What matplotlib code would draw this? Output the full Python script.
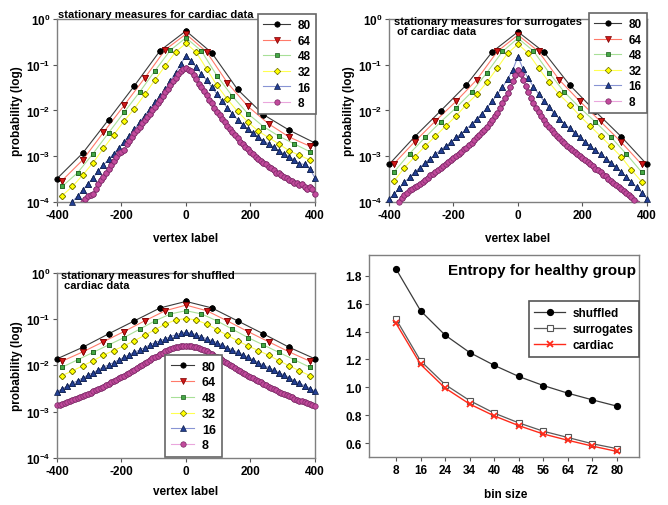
import numpy as np
import matplotlib
matplotlib.use('Agg')
import matplotlib.pyplot as plt
from matplotlib.ticker import NullLocator

plt.rcParams['font.family'] = ['Liberation Sans', 'DejaVu Sans']
plt.rcParams['font.weight'] = 'bold'
plt.rcParams['axes.labelweight'] = 'bold'
plt.rcParams['axes.unicode_minus'] = False
plt.rcParams['mathtext.fontset'] = 'custom'
plt.rcParams['mathtext.rm'] = 'Liberation Sans:bold'
plt.rcParams['mathtext.bf'] = 'Liberation Sans:bold'

# ---- data (log10 of probability), bin sizes 80,64,48,32,16,8 ----
bins = [80, 64, 48, 32, 16, 8]

# cardiac
c80 = [-3.49, -2.93, -2.20, -1.46, -0.69, -0.26, -0.74, -1.54, -2.09, -2.43, -2.71]
c64 = [-3.53, -3.08, -2.48, -1.89, -1.29, -0.67, -0.33, -0.72, -1.39, -1.91, -2.29, -2.58, -2.78]
c48 = [-3.66, -3.36, -2.94, -2.49, -2.04, -1.60, -1.13, -0.68, -0.41, -0.70, -1.24, -1.69,
       -2.07, -2.35, -2.56, -2.73, -2.90]
c32 = [-3.86, -3.66, -3.41, -3.14, -2.83, -2.53, -2.23, -1.96, -1.65, -1.33, -1.02, -0.72,
       -0.53, -0.73, -1.09, -1.45, -1.75, -2.02, -2.25, -2.45, -2.59, -2.73, -2.88, -2.98, -3.08]
c16 = [-4.35, -4.23, -4.11, -3.99, -3.87, -3.74, -3.60, -3.47, -3.32, -3.19, -3.07, -2.94,
       -2.82, -2.68, -2.55, -2.41, -2.26, -2.11, -1.97, -1.82, -1.68, -1.53, -1.35, -1.17, -0.98,
       -0.80, -0.92, -1.06, -1.20, -1.34, -1.49, -1.64, -1.80, -1.94, -2.07, -2.20, -2.31, -2.41,
       -2.50, -2.58, -2.66, -2.73, -2.80, -2.88, -2.95, -3.01, -3.08, -3.16, -3.18, -3.28, -3.47]
c8 = [-4.60, -4.55, -4.50, -4.45, -4.40, -4.32, -4.26, -4.20, -4.12, -4.06, -4.01,
      -3.93, -3.87, -3.85, -3.83, -3.72, -3.60, -3.52, -3.45, -3.37, -3.28, -3.20, -3.11, -3.02,
      -2.92, -2.90, -2.86, -2.74, -2.66, -2.58, -2.50, -2.43, -2.35, -2.28, -2.21, -2.14, -2.07,
      -1.99, -1.92, -1.84, -1.76, -1.68, -1.60, -1.52, -1.44, -1.36, -1.28, -1.20, -1.13, -1.09,
      -1.07,
      -1.11, -1.14, -1.23, -1.32, -1.41, -1.48, -1.58, -1.66, -1.76, -1.84, -1.94, -2.03, -2.10,
      -2.18, -2.26, -2.33, -2.40, -2.47, -2.54, -2.60, -2.68, -2.73, -2.79, -2.85, -2.91, -2.96,
      -3.02, -3.06, -3.11, -3.15, -3.17, -3.24, -3.25, -3.30, -3.36, -3.36, -3.42, -3.45, -3.47,
      -3.52, -3.53, -3.58, -3.59, -3.63, -3.61, -3.67, -3.71, -3.68, -3.72, -3.83]

# surrogates
s80 = [-3.18, -2.57, -2.01, -1.44, -0.72, -0.28, -0.72, -1.44, -2.02, -2.57, -3.18]
s64 = [-3.16, -2.68, -2.23, -1.80, -1.33, -0.71, -0.35, -0.71, -1.33, -1.80, -2.24, -2.69, -3.18]
s48 = [-3.34, -2.94, -2.59, -2.25, -1.94, -1.60, -1.17, -0.71, -0.42, -0.70, -1.17, -1.60,
       -1.94, -2.25, -2.58, -2.95, -3.35]
s32 = [-3.54, -3.25, -3.01, -2.78, -2.56, -2.34, -2.12, -1.87, -1.65, -1.38, -1.07, -0.75,
       -0.55, -0.75, -1.07, -1.38, -1.65, -1.87, -2.12, -2.34, -2.56, -2.78, -3.01, -3.30, -3.56]
s16 = [-3.93, -3.83, -3.70, -3.57, -3.46, -3.34, -3.25, -3.14, -3.05, -2.96, -2.86, -2.78,
       -2.69, -2.59, -2.51, -2.40, -2.30, -2.18, -2.07, -1.94, -1.80, -1.65, -1.49, -1.31, -1.11,
       -0.82, -1.10, -1.30, -1.48, -1.64, -1.79, -1.93, -2.06, -2.18, -2.29, -2.39, -2.50, -2.59,
       -2.69, -2.78, -2.87, -2.96, -3.05, -3.14, -3.24, -3.34, -3.45, -3.56, -3.68, -3.80, -3.93]
s8 = [-4.30, -4.22, -4.14, -4.06, -3.99, -3.92, -3.85, -3.80, -3.74, -3.71, -3.68, -3.64,
      -3.60, -3.56, -3.52, -3.47, -3.42, -3.38, -3.34, -3.30, -3.26, -3.21, -3.17, -3.12, -3.08,
      -3.03, -2.99, -2.94, -2.90, -2.85, -2.81, -2.76, -2.71, -2.65, -2.59, -2.54, -2.48, -2.42,
      -2.35, -2.28, -2.21, -2.13, -2.05, -1.94, -1.83, -1.72, -1.61, -1.48, -1.36, -1.22, -1.11,
      -1.20, -1.33, -1.46, -1.60, -1.72, -1.83, -1.94, -2.04, -2.13, -2.21, -2.29, -2.36, -2.43,
      -2.49, -2.55, -2.60, -2.66, -2.72, -2.77, -2.82, -2.86, -2.91, -2.95, -3.00, -3.04, -3.09,
      -3.13, -3.18, -3.22, -3.27, -3.31, -3.35, -3.40, -3.44, -3.49, -3.53, -3.58, -3.62, -3.67,
      -3.71, -3.76, -3.80, -3.85, -3.89, -3.96, -4.02, -4.08, -4.15, -4.22, -4.30]

# shuffled
h80 = [-1.86, -1.61, -1.32, -1.04, -0.76, -0.62, -0.76, -1.04, -1.32, -1.61, -1.86]
h64 = [-1.91, -1.71, -1.49, -1.27, -1.04, -0.82, -0.70, -0.82, -1.04, -1.27, -1.49, -1.71, -1.91]
h48 = [-2.04, -1.88, -1.72, -1.56, -1.40, -1.22, -1.04, -0.89, -0.82, -0.89, -1.04, -1.22,
       -1.40, -1.56, -1.72, -1.88, -2.04]
h32 = [-2.22, -2.12, -2.01, -1.90, -1.78, -1.68, -1.58, -1.47, -1.35, -1.23, -1.11, -1.02,
       -0.99, -1.02, -1.11, -1.23, -1.35, -1.47, -1.58, -1.68, -1.78, -1.90, -2.01, -2.12, -2.22]
h16 = [-2.57, -2.51, -2.45, -2.39, -2.33, -2.27, -2.21, -2.16, -2.10, -2.04, -1.99, -1.94,
       -1.88, -1.83, -1.77, -1.72, -1.67, -1.62, -1.56, -1.51, -1.47, -1.43, -1.38, -1.34, -1.31,
       -1.28, -1.31, -1.34, -1.38, -1.43, -1.47, -1.51, -1.56, -1.62, -1.67, -1.72, -1.77, -1.83,
       -1.88, -1.94, -2.00, -2.05, -2.10, -2.16, -2.21, -2.27, -2.33, -2.39, -2.44, -2.50, -2.56]
h8 = [-2.86, -2.85, -2.83, -2.81, -2.79, -2.77, -2.75, -2.73, -2.71, -2.69, -2.66, -2.64,
      -2.61, -2.59, -2.56, -2.54, -2.51, -2.48, -2.46, -2.43, -2.40, -2.37, -2.34, -2.31, -2.28,
      -2.25, -2.22, -2.19, -2.16, -2.12, -2.09, -2.05, -2.02, -1.99, -1.95, -1.92, -1.89, -1.85,
      -1.82, -1.79, -1.76, -1.73, -1.70, -1.67, -1.65, -1.63, -1.61, -1.60, -1.59, -1.58, -1.58,
      -1.58, -1.59, -1.60, -1.61, -1.63, -1.65, -1.67, -1.70, -1.73, -1.76, -1.79, -1.82, -1.85,
      -1.89, -1.92, -1.95, -1.99, -2.02, -2.05, -2.09, -2.12, -2.16, -2.19, -2.22, -2.25, -2.28,
      -2.31, -2.34, -2.37, -2.40, -2.43, -2.46, -2.49, -2.51, -2.54, -2.57, -2.59, -2.62, -2.64,
      -2.67, -2.69, -2.72, -2.74, -2.76, -2.78, -2.80, -2.82, -2.84, -2.86, -2.87]

# entropy panel
bin_labels = ['8', '16', '24', '34', '40', '48', '56', '64', '72', '80']
shuffled = [1.85, 1.55, 1.375, 1.25, 1.158, 1.078, 1.013, 0.958, 0.91, 0.865]
surrogates = [1.49, 1.19, 1.02, 0.905, 0.815, 0.745, 0.685, 0.64, 0.595, 0.56]
cardiac = [1.46, 1.165, 0.995, 0.88, 0.795, 0.725, 0.665, 0.62, 0.578, 0.54]

xpos = {80: np.arange(-400, 401, 80), 64: np.arange(-384, 385, 64), 48: np.arange(-384, 385, 48),
        32: np.arange(-384, 385, 32), 16: np.arange(-400, 401, 16), 8: np.arange(-400, 401, 8)}

sty = {80: dict(marker='o', mfc='black', mec='black', color='#3a3a3a', ms=3.9),
       64: dict(marker='v', mfc='#d01818', mec='#7a0000', color='#ff7a6a', ms=3.8),
       48: dict(marker='s', mfc='#44a844', mec='#1e5a1e', color='#a8e098', ms=3.5),
       32: dict(marker='D', mfc='#ffff00', mec='#6a6a00', color='#ffff50', ms=3.3),
       16: dict(marker='^', mfc='#233f94', mec='#10204a', color='#8894d4', ms=3.8),
       8: dict(marker='o', mfc='#c24a9c', mec='#7a2a66', color='#eaa6dc', ms=3.9)}

frame_col = '#7f7f7f'


def style_axes(ax):
    for s in ax.spines.values():
        s.set_color(frame_col)
        s.set_linewidth(1.0)
    ax.tick_params(labelsize=8.5, length=3, width=0.8, color='#555555', pad=2)


def stationary(ax, data, title, leg_anchor, leg_loc, leg_fs, hlen, ylab_x):
    for b, vals in zip(bins, data):
        y = 10.0 ** np.array(vals)
        x = xpos[b]
        st = sty[b]
        ax.plot(x, y, lw=0.8, color=st['color'], marker=st['marker'], ms=st['ms'],
                mfc=st['mfc'], mec=st['mec'], mew=0.5, label=str(b))
        m = y >= 1e-4
        ax.plot(x[m], y[m], ls='none', marker=st['marker'], ms=st['ms'],
                mfc=st['mfc'], mec=st['mec'], mew=0.5, clip_on=False, zorder=3)
    ax.set_yscale('log')
    ax.set_ylim(1e-4, 1)
    ax.set_xlim(-400, 400)
    ax.set_xticks([-400, -200, 0, 200, 400])
    ax.set_yticks([1e-4, 1e-3, 1e-2, 1e-1, 1])
    ax.set_yticklabels([r'$\mathbf{10^{-4}}$', r'$\mathbf{10^{-3}}$', r'$\mathbf{10^{-2}}$',
                        r'$\mathbf{10^{-1}}$', r'$\mathbf{10^{0}}$'])
    ax.yaxis.set_minor_locator(NullLocator())
    style_axes(ax)
    ax.set_xlabel('vertex label', fontsize=8.5, fontweight='bold')
    ax.set_ylabel('probability (log)', fontsize=8.5, fontweight='bold')
    ax.yaxis.set_label_coords(ylab_x, 0.5)
    ax.text(0.005, 1.0, title, transform=ax.transAxes, fontsize=8, va='bottom', ha='left',
            linespacing=1.0)
    leg = ax.legend(loc=leg_loc, bbox_to_anchor=leg_anchor, borderaxespad=0, fancybox=False,
                    edgecolor='#666666', framealpha=1, fontsize=leg_fs, handlelength=hlen,
                    labelspacing=0.3, borderpad=0.45, handletextpad=0.6)
    leg.get_frame().set_linewidth(1.2)
    leg.set_zorder(5)


fig = plt.figure(figsize=(6.68, 5.06), dpi=100)

ax1 = fig.add_axes([0.0853, 0.5988, 0.3862, 0.3617])
stationary(ax1, [c80, c64, c48, c32, c16, c8], 'stationary measures for cardiac data',
           (1.004, 1.027), 'upper right', 8.5, 2.3, -0.13)
ax1.xaxis.set_label_coords(0.5, -0.165)

ax2 = fig.add_axes([0.5823, 0.5988, 0.3862, 0.3617])
stationary(ax2, [s80, s64, s48, s32, s16, s8],
           'stationary measures for surrogates\n of cardiac data',
           (1.0, 1.033), 'upper right', 8.5, 2.3, -0.13)
ax2.texts[0].set_position((0.02, 0.905))
ax2.xaxis.set_label_coords(0.5, -0.165)

ax3 = fig.add_axes([0.0853, 0.0929, 0.3862, 0.3662])
stationary(ax3, [h80, h64, h48, h32, h16, h8],
           'stationary measures for shuffled\n cardiac data',
           (0.419, 0.005), 'lower left', 9.0, 1.9, -0.13)
ax3.texts[0].set_position((0.015, 0.905))
ax3.xaxis.set_label_coords(0.5, -0.146)

# entropy panel
ax4 = fig.add_axes([0.5524, 0.0949, 0.4042, 0.3992])
xi = np.arange(len(bin_labels))
ax4.plot(xi, shuffled, color='#3a3a3a', lw=0.9, marker='o', ms=4.2, mfc='black', mec='black',
         label='shuffled')
ax4.plot(xi, surrogates, color='#5a5a5a', lw=0.9, marker='s', ms=4.0, mfc='white',
         mec='#555555', mew=0.8, label='surrogates')
ax4.plot(xi, cardiac, color='#ff2a1a', lw=1.0, marker='x', ms=5.0, mec='#ff2a1a', mew=1.3,
         label='cardiac')
ax4.set_xlim(-1.1, 9.9)
ax4.set_ylim(0.5, 1.95)
ax4.set_xticks(xi)
ax4.set_xticklabels(bin_labels)
ax4.set_yticks([0.6, 0.8, 1.0, 1.2, 1.4, 1.6, 1.8])
ax4.set_yticklabels(['0.6', '0.8', '1.0', '1.2', '1.4', '1.6', '1.8'])
style_axes(ax4)
ax4.set_xlabel('bin size', fontsize=8.5, fontweight='bold')
ax4.xaxis.set_label_coords(0.507, -0.153)
ax4.text(0.99, 0.925, 'Entropy for healthy group', transform=ax4.transAxes, fontsize=11,
         ha='right', va='center')
leg4 = ax4.legend(loc='upper right', bbox_to_anchor=(1.0, 0.772), borderaxespad=0,
                  fancybox=False, edgecolor='#555555', framealpha=1, fontsize=8.5,
                  handlelength=2.6, labelspacing=0.35, borderpad=0.5, handletextpad=0.6)
leg4.get_frame().set_linewidth(1.2)

fig.savefig('out.png', dpi=100)
